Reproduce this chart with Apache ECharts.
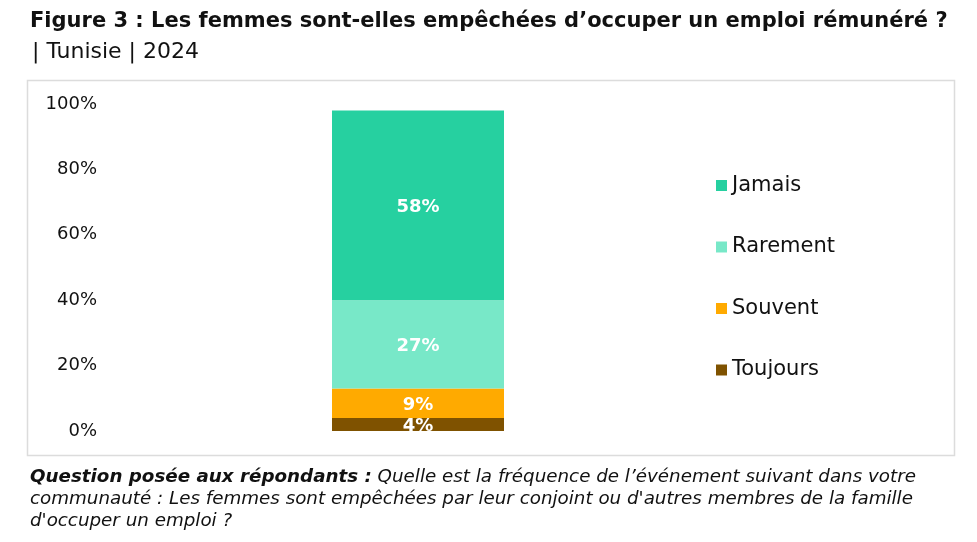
<!DOCTYPE html>
<html>
<head>
<meta charset="utf-8">
<script src="https://cdn.jsdelivr.net/npm/echarts@6/dist/echarts.min.js"></script>
<style>
html,body{margin:0;padding:0;background:#fff;}
#c{width:977px;height:542px;}
</style>
</head>
<body>
<div id="c"></div>
<script>
const categories = ['Tunisie'];
const seriesNames = ['Toujours', 'Souvent', 'Rarement', 'Jamais'];
const toujours = [4];
const souvent = [9];
const rarement = [27];
const jamais = [58];
const colors = ['#7F5200', '#FFAA00', '#78E8C8', '#26D0A0'];
const yTicks = [0, 20, 40, 60, 80, 100];

const values = [toujours, souvent, rarement, jamais];
const font = 'DejaVu Sans';

const chart = echarts.init(document.getElementById('c'));
chart.setOption({
  animation: false,
  textStyle: { fontFamily: font },
  title: [
    {
      text: 'Figure 3 : Les femmes sont-elles empêchées d’occuper un emploi rémunéré ?',
      left: 25, top: 6,
      textStyle: { fontFamily: font, fontSize: 21, fontWeight: 'bold', color: '#111' }
    },
    {
      text: '| Tunisie | 2024',
      left: 27, top: 36,
      textStyle: { fontFamily: font, fontSize: 22, fontWeight: 'normal', color: '#111' }
    }
  ],
  graphic: [
    { type: 'rect', shape: { x: 27.5, y: 80.5, width: 927, height: 375 },
      style: { fill: 'none', stroke: '#dcdcdc', lineWidth: 1.5 }, z: -1 },
    { type: 'text', left: 30, top: 466,
      style: { rich: {
          b: { fontFamily: font, fontSize: 18.3, fontWeight: 'bold', fontStyle: 'italic', fill: '#111', lineHeight: 22 },
          i: { fontFamily: font, fontSize: 18.3, fontStyle: 'italic', fill: '#111', lineHeight: 22 }
        },
        text: '{b|Question posée aux répondants :}{i| Quelle est la fréquence de l’événement suivant dans votre}\n{i|communauté : Les femmes sont empêchées par leur conjoint ou d\'autres membres de la famille}\n{i|d\'occuper un emploi ?}',
        lineHeight: 22 } }
  ],
  legend: {
    orient: 'vertical',
    left: 711, top: 170,
    itemWidth: 11, itemHeight: 11, itemGap: 40.5,
    icon: 'rect',
    data: ['Jamais', 'Rarement', 'Souvent', 'Toujours'],
    textStyle: { fontFamily: font, fontSize: 21, color: '#111' }
  },
  grid: { left: 110, top: 104, width: 616, height: 327 },
  xAxis: {
    type: 'category', data: categories,
    axisLine: { show: false }, axisTick: { show: false }, axisLabel: { show: false }
  },
  yAxis: {
    type: 'value', min: 0, max: 100, interval: 20,
    axisLine: { show: false }, axisTick: { show: false },
    splitLine: { show: false },
    axisLabel: { formatter: v => v + '%', fontFamily: font, fontSize: 18, color: '#111', margin: 13 }
  },
  series: seriesNames.map((n, i) => ({
    name: n, type: 'bar', stack: 'total', data: values[i],
    barWidth: 172,
    itemStyle: { color: colors[i] },
    label: { show: true, position: 'inside', offset: [0, 2], formatter: p => p.value + '%',
      color: '#fff', fontFamily: font, fontWeight: 'bold', fontSize: 18 }
  }))
});
</script>
</body>
</html>
